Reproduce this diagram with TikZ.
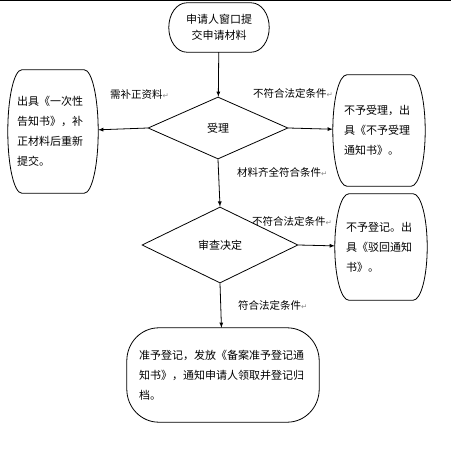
\documentclass[tikz,border=0pt]{standalone}
\usepackage{fontspec}
\setmainfont{Noto Sans CJK SC}
\newfontfamily\symfont{DejaVu Sans}
\usetikzlibrary{arrows}
\usetikzlibrary{shapes.geometric}

% gray paragraph mark after the labels
\newcommand{\pmark}{{\color{black!45}\symfont\fontsize{7.5}{7.5}\selectfont ↵}}

% outline with elliptic corners round a node: name, x radius, y radius
\newcommand{\bulge}[3]{%
  \draw[line width=0.8pt] ([xshift=#2]#1.north west) -- ([xshift=-#2]#1.north east)
    arc[start angle=90, end angle=0, x radius=#2, y radius=#3]
    -- ([yshift=#3]#1.south east)
    arc[start angle=0, end angle=-90, x radius=#2, y radius=#3]
    -- ([xshift=#2]#1.south west)
    arc[start angle=270, end angle=180, x radius=#2, y radius=#3]
    -- ([yshift=-#3]#1.north west)
    arc[start angle=180, end angle=90, x radius=#2, y radius=#3] -- cycle;}

\tikzset{
  box/.style={inner sep=0pt, align=left, font=\fontsize{11}{20}\selectfont},
  decide/.style={draw, diamond, line width=0.8pt, inner sep=0pt,
    font=\fontsize{11}{14}\selectfont},
  cond/.style={anchor=west, inner sep=0pt, font=\fontsize{10.5}{12}\selectfont},
  flow/.style={->, >=latex, line width=0.8pt}
}

\begin{document}
\begin{tikzpicture}[x=1pt,y=-1pt]
  \useasboundingbox (0,0) rectangle (451,473);
  \draw[line width=1pt] (0,0.5) -- (451,0.5);

  % boxes
  \node[box, align=center, minimum width=100pt, minimum height=49pt,
    font=\fontsize{11}{16}\selectfont] (apply) at (219,27.5) {申请人窗口提\\交申请材料};
  \node[decide, minimum width=140pt, minimum height=62pt] (accept) at (218,128) {受理};
  \node[box, minimum width=90pt, minimum height=123pt,
    text width=72pt] (supply) at (53,131.5) {出具《一次性\\告知书》，补\\正材料后重新\\提交。};
  \node[box, minimum width=92pt, minimum height=111pt,
    text width=70pt] (reject) at (379,130.5) {不予受理，出\\具《不予受理\\通知书》。};
  \node[decide, minimum width=156pt, minimum height=76pt] (review) at (220,245) {审查决定};
  \node[box, minimum width=92pt, minimum height=106pt,
    text width=70pt] (refuse) at (381,247) {不予登记。出\\具《驳回通知\\书》。};
  \node[box, minimum width=192pt, minimum height=94pt,
    text width=168pt] (grant) at (223,375) {准予登记，发放《备案准予登记通\\知书》，通知申请人领取并登记归\\档。};

  \bulge{apply}{18pt}{24.5pt}
  \bulge{supply}{14pt}{61.5pt}
  \bulge{reject}{14pt}{55.5pt}
  \bulge{refuse}{14pt}{53pt}
  \bulge{grant}{32pt}{33pt}

  % connectors
  \draw[flow] (apply) -- (accept);
  \draw[flow] (accept.west) -- (supply);
  \draw[flow] (accept.east) -- (reject);
  \draw[flow] (accept.south) -- (review.north);
  \draw[flow] (review.east) -- (refuse);
  \draw[flow] (review.south) -- (grant);

  % conditions
  \node[cond] (needmore) at (110,95) {需补正资料\pmark};
  \node[cond] (nolaw1) at (253,93) {不符合法定条件\pmark};
  \node[cond] (complete) at (237,172) {材料齐全符合条件\pmark};
  \node[cond] (nolaw2) at (252,221) {不符合法定条件\pmark};
  \node[cond] (law) at (238,305) {符合法定条件\pmark};
\end{tikzpicture}
\end{document}
